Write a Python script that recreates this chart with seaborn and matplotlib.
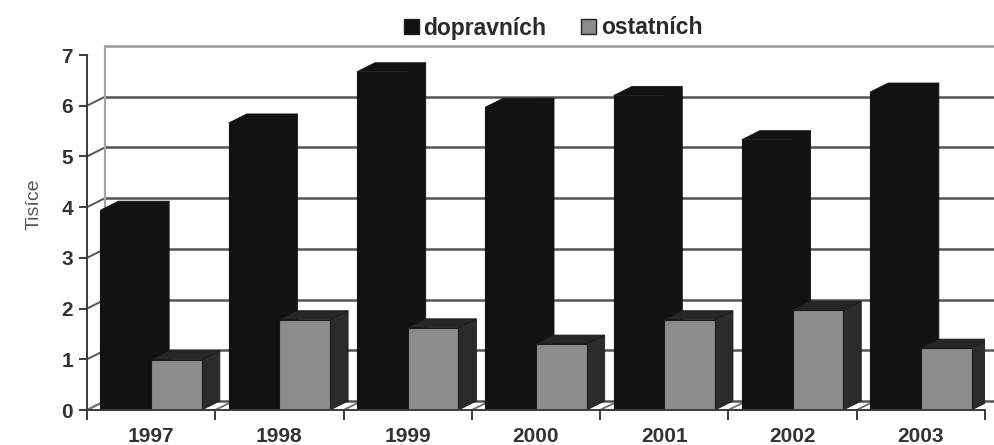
import numpy as np
import pandas as pd
import matplotlib
matplotlib.use('Agg')
import matplotlib.pyplot as plt
import matplotlib.transforms as mtransforms
from matplotlib.patches import Polygon, Patch
import seaborn as sns

years = ['1997', '1998', '1999', '2000', '2001', '2002', '2003']
dopravnich = [3.94, 5.66, 6.67, 5.97, 6.2, 5.33, 6.27]
ostatnich = [0.99, 1.78, 1.62, 1.3, 1.78, 1.97, 1.22]

df = pd.DataFrame({'rok': years, 'dopravních': dopravnich, 'ostatních': ostatnich})
df = df.melt(id_vars='rok', var_name='druh', value_name='tisice')

sns.set_theme(style='white')
plt.rcParams['font.family'] = ['Liberation Sans', 'DejaVu Sans']

W, H = 995, 445
fig = plt.figure(figsize=(W / 100, H / 100), dpi=100)
ax = fig.add_axes([87 / W, 1 - 410 / H, 898 / W, 355 / H])

black, grey = '#121212', '#8c8c8c'
sns.barplot(data=df, x='rok', y='tisice', hue='druh', palette=[black, grey],
            width=0.79, gap=0, saturation=1, legend=False, ax=ax, zorder=3)
ax.set_xlim(-0.5, 6.5)
ax.set_ylim(0, 7)
ax.set_yticks(range(8))
ax.set_xlabel('')
ax.set_ylabel('Tisíce', color='#555555', fontsize=14)
ax.yaxis.set_label_coords(-44 / 898, 0.58)
for s in ['top', 'right']:
    ax.spines[s].set_visible(False)
for s in ['left', 'bottom']:
    ax.spines[s].set_color('#3a3a3a')
    ax.spines[s].set_linewidth(1.4)
    ax.spines[s].set_zorder(6)
ax.set_xticks(np.arange(-0.5, 7, 1), minor=True)
ax.tick_params(axis='x', which='minor', length=7, width=1.4, color='#3a3a3a', bottom=True)
ax.tick_params(axis='x', which='major', length=0, pad=12)
ax.tick_params(axis='y', length=6, width=1.4, color='#3a3a3a', left=True, pad=4)
for lab in ax.get_xticklabels():
    lab.set_fontsize(15)
    lab.set_fontweight('bold')
    lab.set_color('#333333')
for lab in ax.get_yticklabels():
    lab.set_fontsize(15)
    lab.set_fontweight('bold')
    lab.set_color('#333333')

# back wall of the fake 3D box
dx, dy = 18, 9
back = mtransforms.offset_copy(ax.transData, fig=fig, x=dx, y=dy, units='dots')
for v in range(8):
    col = '#9a9a9a' if v == 7 else '#555555'
    ax.plot([-0.5, 6.5], [v, v], transform=back, color=col, lw=1.8, zorder=1, clip_on=False)
    p0 = ax.transData.transform((-0.5, v))
    ax.add_line(plt.Line2D([p0[0], p0[0] + dx], [p0[1], p0[1] + dy], transform=None,
                           color=col, lw=1.4, zorder=1))
ax.plot([-0.5, -0.5], [0, 7], transform=back, color='#a5a5a5', lw=1.6, zorder=1, clip_on=False)
for k in range(8):
    p0 = ax.transData.transform((k - 0.5, 0))
    ax.add_line(plt.Line2D([p0[0], p0[0] + dx], [p0[1], p0[1] + dy], transform=None,
                           color='#777777', lw=1.4, zorder=1))

# side and top faces of the bars, taken from the bars seaborn drew
for bar in ax.patches:
    bb = bar.get_window_extent(renderer=fig.canvas.get_renderer())
    x0, x1, y0, y1 = bb.x0, bb.x1, bb.y0, bb.y1
    is_black = matplotlib.colors.to_hex(bar.get_facecolor()) == black
    z = 2.5 if is_black else 3.5
    edge = black if is_black else '#1a1a1a'
    bar.set_zorder(z + 0.1)
    bar.set_edgecolor(edge)
    bar.set_linewidth(0.8)
    side = black if is_black else '#2b2b2b'
    top = black if is_black else '#262626'
    ax.add_patch(Polygon([(x1, y0), (x1 + dx, y0 + dy), (x1 + dx, y1 + dy), (x1, y1)], closed=True,
                         transform=None, facecolor=side, edgecolor=edge, lw=0.6, zorder=z))
    ax.add_patch(Polygon([(x0, y1), (x0 + dx, y1 + dy), (x1 + dx, y1 + dy), (x1, y1)], closed=True,
                         transform=None, facecolor=top, edgecolor=edge, lw=0.6, zorder=z))

handles = [Patch(facecolor=black, edgecolor='#222222'), Patch(facecolor=grey, edgecolor='#222222')]
leg = fig.legend(handles, ['dopravních', 'ostatních'], ncol=2, frameon=False,
                 loc='center', bbox_to_anchor=(553 / W, 1 - 28 / H), fontsize=16.5,
                 handlelength=0.65, handleheight=0.65, handletextpad=0.22, columnspacing=1.5)
for t in leg.get_texts():
    t.set_fontweight('bold')
    t.set_color('#2a2a2a')

fig.savefig('out.png', dpi=100)
